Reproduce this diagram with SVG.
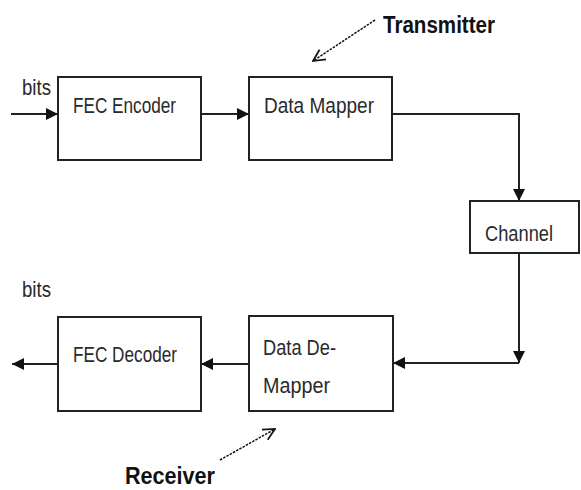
<svg xmlns="http://www.w3.org/2000/svg" width="581" height="490" viewBox="0 0 581 490">
<defs>
<style>
.box{fill:#fff;stroke:#222;stroke-width:2}
.ln{fill:none;stroke:#222;stroke-width:2}
.dash{fill:none;stroke:#111;stroke-width:1.5;stroke-dasharray:2.5 1.2}
.t{font-family:"Liberation Sans",Arial,sans-serif;font-size:17px;fill:#2a2a2a}
.b{font-family:"Liberation Sans",Arial,sans-serif;font-size:19px;font-weight:bold;fill:#111}
</style>
<marker id="ah" viewBox="0 0 10 10" refX="10" refY="5" markerWidth="12" markerHeight="12" markerUnits="userSpaceOnUse" orient="auto">
<path d="M0,0 L10,5 L0,10 Z" fill="#111"/>
</marker>
<marker id="oh" viewBox="0 0 12 12" refX="11" refY="6" markerWidth="14" markerHeight="14" markerUnits="userSpaceOnUse" orient="auto">
<path d="M1,1 L11,6 L1,11" fill="none" stroke="#111" stroke-width="1.5"/>
</marker>
</defs>
<rect width="581" height="490" fill="#fff"/>
<g id="connectors">
<path class="ln" d="M11,114 H58" marker-end="url(#ah)"/>
<path class="ln" d="M201,114 H249" marker-end="url(#ah)"/>
<path class="ln" d="M392,114 H519 V201" marker-end="url(#ah)"/>
<path class="ln" d="M519,253 V363" marker-end="url(#ah)"/>
<path class="ln" d="M519,363 H393" marker-end="url(#ah)"/>
<path class="ln" d="M249,364 H201" marker-end="url(#ah)"/>
<path class="ln" d="M58,364 H12" marker-end="url(#ah)"/>
<path class="dash" d="M375,20 L313,61" marker-end="url(#oh)"/>
<path class="dash" d="M220,460 L275,429" marker-end="url(#oh)"/>
</g>
<g id="bits-in"><text class="t" transform="translate(22,95) scale(1,1.3)" textLength="29" lengthAdjust="spacingAndGlyphs">bits</text></g>
<g id="fec-encoder">
<rect class="box" x="58" y="77" width="143" height="83"/>
<text class="t" transform="translate(73,113) scale(1,1.3)" textLength="103" lengthAdjust="spacingAndGlyphs">FEC Encoder</text>
</g>
<g id="data-mapper">
<rect class="box" x="249" y="77" width="143" height="83"/>
<text class="t" transform="translate(264,113) scale(1,1.3)" textLength="110" lengthAdjust="spacingAndGlyphs">Data Mapper</text>
</g>
<g id="transmitter"><text class="b" transform="translate(383,33) scale(1,1.3)" textLength="112" lengthAdjust="spacingAndGlyphs">Transmitter</text></g>
<g id="channel">
<rect class="box" x="470" y="201" width="109" height="52"/>
<text class="t" transform="translate(485,241) scale(1,1.3)" textLength="68" lengthAdjust="spacingAndGlyphs">Channel</text>
</g>
<g id="data-demapper">
<rect class="box" x="249" y="316" width="144" height="95"/>
<text class="t" transform="translate(263,355) scale(1,1.3)" textLength="73" lengthAdjust="spacingAndGlyphs">Data De-</text>
<text class="t" transform="translate(263,393) scale(1,1.3)" textLength="67" lengthAdjust="spacingAndGlyphs">Mapper</text>
</g>
<g id="fec-decoder">
<rect class="box" x="58" y="317" width="143" height="94"/>
<text class="t" transform="translate(73,362) scale(1,1.3)" textLength="104" lengthAdjust="spacingAndGlyphs">FEC Decoder</text>
</g>
<g id="bits-out"><text class="t" transform="translate(22,297) scale(1,1.3)" textLength="29" lengthAdjust="spacingAndGlyphs">bits</text></g>
<g id="receiver"><text class="b" transform="translate(125,484) scale(1,1.25)" textLength="90" lengthAdjust="spacingAndGlyphs">Receiver</text></g>
</svg>
